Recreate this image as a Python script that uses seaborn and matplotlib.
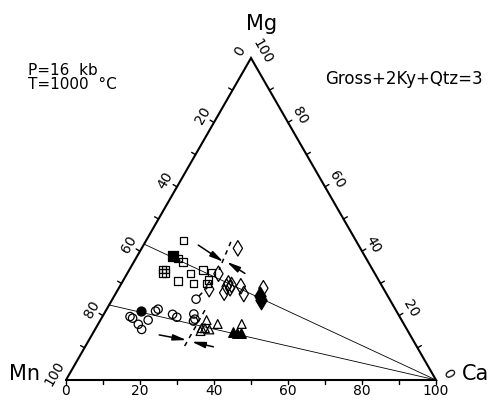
import numpy as np
import pandas as pd
import seaborn as sns
import matplotlib.pyplot as plt

# compositions (mol %) : Mg, Ca  -> Mn = 100 - Mg - Ca
sq_mg = [43.4, 37.7, 36.7, 33.1, 34.2, 33.3, 30.8, 30.0, 31.1, 29.9]
sq_ca = [10.0, 11.4, 13.3, 17.1, 19.9, 22.7, 14.9, 19.4, 22.9, 23.2]
grid_mg = [34.3, 34.3, 33.2, 33.2]
grid_ca = [8.9, 9.7, 9.5, 10.3]
sq_fill_mg = [38.5]
sq_fill_ca = [9.6]

di_mg = [40.9, 33.0, 28.2, 30.0, 29.5, 28.5, 29.0, 27.1, 29.1, 26.7, 28.5]
di_ca = [26.0, 24.7, 24.6, 28.9, 30.0, 30.1, 28.9, 29.2, 32.7, 34.7, 39.1]
di_fill_mg = [26.1, 24.8]
di_fill_ca = [39.5, 40.3]

ci_mg = [19.7, 19.2, 17.3, 15.7, 18.6, 21.4, 22.0, 20.4, 19.5, 20.5, 18.9, 18.3, 25.1]
ci_ca = [7.45, 8.4, 10.9, 12.6, 12.9, 13.5, 13.9, 18.6, 20.2, 24.3, 25.4, 25.3, 22.6]
ci_fill_mg = [21.4]
ci_fill_ca = [9.6]

tr_mg = [18.6, 17.4, 16.1, 16.1, 15.7, 15.2, 17.4]
tr_ca = [28.7, 32.3, 28.6, 29.5, 30.9, 28.75, 38.8]
tr_fill_mg = [15.0, 14.7, 14.5]
tr_fill_ca = [37.7, 38.95, 39.97]

# tie lines to Ca corner (Mg, Ca)
tie_lines = [[(42.2, 0.0), (0.0, 100.0)], [(23.3, 0.0), (0.0, 100.0)]]
dash_lines = [[(42.9, 23.1), (34.2, 24.25)],
              [(21.7, 26.7), (9.8, 26.8)],
              [(26.1, 22.9), (28.9, 23.9)]]
arrows = [[(41.9, 14.8), (36.7, 24.2)], [(33.1, 31.8), (36.7, 25.1)],
          [(14.0, 18.2), (12.4, 26.4)], [(10.3, 34.7), (11.9, 28.0)]]

tick_labels = [0, 20, 40, 60, 80, 100]

R3 = np.sqrt(3) / 2


def tern(mg, ca):
    mg = np.asarray(mg, dtype=float)
    ca = np.asarray(ca, dtype=float)
    return ca + mg / 2, mg * R3


sns.set_style("white")
plt.rcParams['font.family'] = ['DejaVu Sans']

fig = plt.figure(figsize=(5, 4.01), dpi=100)
ax = fig.add_axes([0, 0, 1, 1])
ax.set_xlim(-66 / 3.7, 434 / 3.7)
ax.set_ylim(-21 / 3.718, 380 / 3.718)
ax.axis("off")

# triangle
ax.plot([0, 100, 50, 0], [0, 0, 100 * R3, 0], color="k", lw=1.5,
        solid_joinstyle="miter", zorder=3)

# ticks
tl = 1.2
for v in range(0, 101, 10):
    ax.plot([v, v], [0, -tl], color="k", lw=1.0)
    if 0 < v < 100:
        lx, ly = (100 - v) / 2, (100 - v) * R3
        ax.plot([lx, lx - tl * R3], [ly, ly + tl / 2], color="k", lw=1.0)
        rx, ry = 100 - v / 2, v * R3
        ax.plot([rx, rx + tl * R3], [ry, ry + tl / 2], color="k", lw=1.0)

off = 3.6
for v in tick_labels:
    ax.text(v, -3.0, str(v), ha="center", va="center", fontsize=10, color="k")
    lx, ly = (100 - v) / 2, (100 - v) * R3
    ax.text(lx - off * R3, ly + off / 2, str(v), ha="center", va="center",
            rotation=60, fontsize=10, color="k")
    rx, ry = 100 - v / 2, v * R3
    ax.text(rx + off * R3, ry + off / 2, str(v), ha="center", va="center",
            rotation=-60, fontsize=10, color="k")

# tie lines, dashed lines, arrows
for (a, b) in tie_lines:
    x, y = tern([a[0], b[0]], [a[1], b[1]])
    ax.plot(x, y, color="k", lw=0.6, zorder=2)
for (a, b) in dash_lines:
    x, y = tern([a[0], b[0]], [a[1], b[1]])
    ax.plot(x, y, color="k", lw=1.1, ls=(0, (3, 3)), zorder=2)
for (a, b) in arrows:
    xa, ya = tern(a[0], a[1])
    xb, yb = tern(b[0], b[1])
    ax.annotate("", xy=(xb, yb), xytext=(xa, ya),
                arrowprops=dict(arrowstyle="-|>,head_length=0.8,head_width=0.18",
                                color="k", lw=1.1, shrinkA=0, shrinkB=0))

# data points
groups = [
    (sq_mg, sq_ca, "s", False, 28),
    (grid_mg, grid_ca, "s", False, 28),
    (sq_fill_mg, sq_fill_ca, "s", True, 42),
    (di_mg, di_ca, "d", False, 62),
    (di_fill_mg, di_fill_ca, "d", True, 90),
    (ci_mg, ci_ca, "o", False, 36),
    (ci_fill_mg, ci_fill_ca, "o", True, 42),
    (tr_mg, tr_ca, "^", False, 40),
    (tr_fill_mg, tr_fill_ca, "^", True, 48),
]
for mg, ca, mk, filled, s in groups:
    x, y = tern(mg, ca)
    df = pd.DataFrame({"x": x, "y": y})
    if filled:
        sns.scatterplot(data=df, x="x", y="y", marker=mk, s=s, color="k",
                        edgecolor="k", linewidth=0.9, ax=ax, zorder=4)
    else:
        sns.scatterplot(data=df, x="x", y="y", marker=mk, s=s,
                        facecolors="none", edgecolor="k", linewidth=0.9,
                        ax=ax, zorder=4)
ax.set_xlabel("")
ax.set_ylabel("")

# corner labels and annotations
ax.text(52.97, 94.1, "Mg", ha="center", va="baseline", fontsize=15, color="k")
ax.text(-11.1, 0, "Mn", ha="center", va="baseline", fontsize=15, color="k")
ax.text(110.8, 0, "Ca", ha="center", va="baseline", fontsize=15, color="k")
ax.text(-10.27, 82.0, "P=16  kb", ha="left", va="baseline", fontsize=11, color="k")
ax.text(-10.27, 78.2, "T=1000  °C", ha="left", va="baseline", fontsize=11, color="k")
ax.text(70.0, 79.6, "Gross+2Ky+Qtz=3", ha="left", va="baseline", fontsize=12, color="k")

fig.savefig("out.png", dpi=100)
